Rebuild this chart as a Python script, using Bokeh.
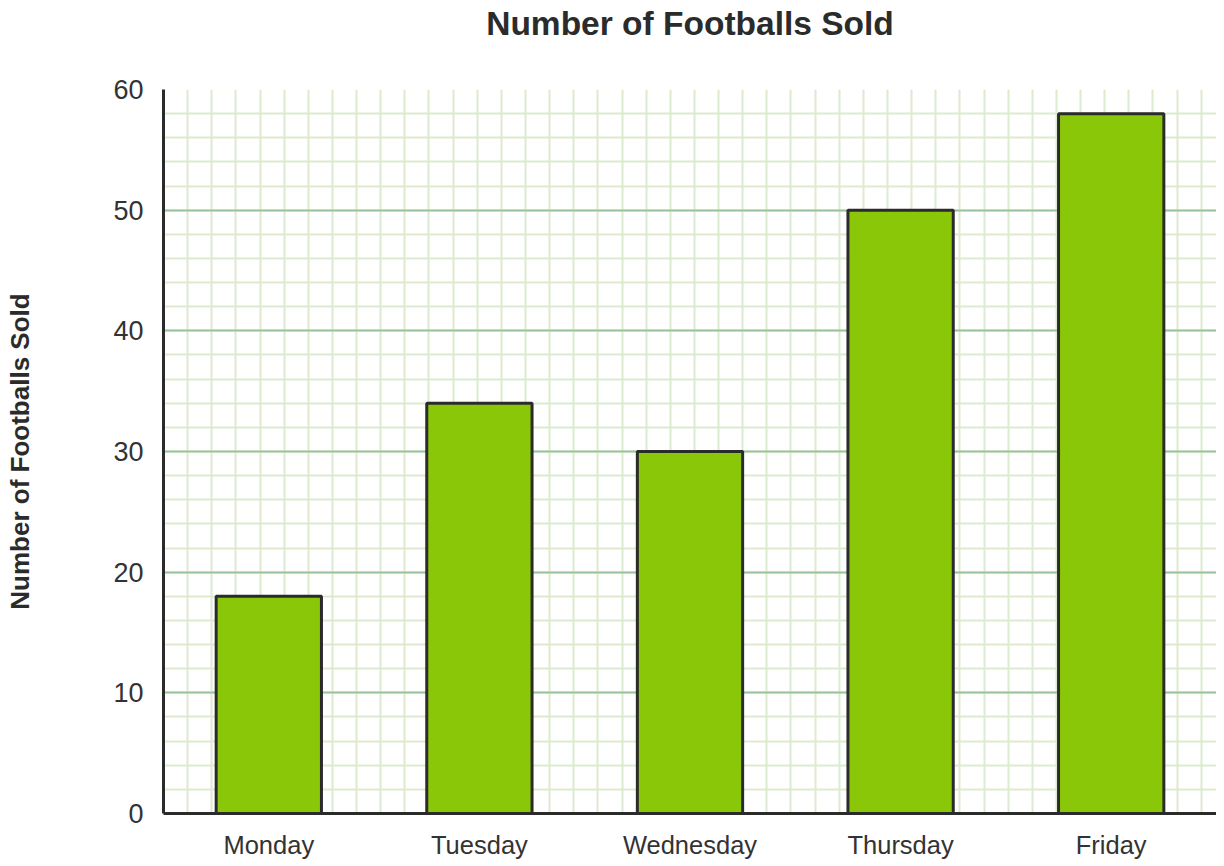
from bokeh.plotting import figure
from bokeh.models import Range1d, FixedTicker, ColumnDataSource, Title
from bokeh.embed import file_html
from bokeh.resources import INLINE

days = ["Monday", "Tuesday", "Wednesday", "Thursday", "Friday"]
sold = [18, 34, 30, 50, 58]
y_major = [0, 10, 20, 30, 40, 50, 60]
y_minor = list(range(0, 61, 2))

FRAME_W, FRAME_H = 1053, 724
L, T, B = 163, 89, 53
W, H = L + FRAME_W, T + FRAME_H + B

xpos = [i + 0.5 for i in range(len(days))]
src = ColumnDataSource(dict(x=xpos, top=sold))

p = figure(width=W, height=H, output_backend="svg", toolbar_location=None,
           x_range=Range1d(0, len(days)), y_range=Range1d(0, 60),
           min_border_left=L, min_border_right=0, min_border_top=T,
           min_border_bottom=B)
p.outline_line_color = None
p.background_fill_color = "white"
p.border_fill_color = "white"

# spacer between frame and title (nearest the frame)
spacer = Title(text=" ", text_font_size="10px", standoff=33)
p.add_layout(spacer, "above")
title = Title(text="Number of Footballs Sold", align="center",
              vertical_align="top", text_font="Liberation Sans",
              text_font_size="33.5px", text_font_style="bold",
              text_color="#2b2b2b", standoff=0)
p.add_layout(title, "above")

# grids
step = 2 * (FRAME_H / 60) / (FRAME_W / len(days))
n = int(len(days) / step)
p.xgrid.ticker = FixedTicker(ticks=[k * step for k in range(1, n + 1)])
p.xgrid.grid_line_color = "#dcebd0"
p.xgrid.grid_line_width = 2

p.yaxis.ticker = FixedTicker(ticks=y_major, minor_ticks=y_minor)
p.ygrid.grid_line_color = "#9cc49c"
p.ygrid.grid_line_width = 2
p.ygrid.minor_grid_line_color = "#dcebd0"
p.ygrid.minor_grid_line_width = 2

p.vbar(x="x", top="top", bottom=0, width=0.5, source=src,
       fill_color="#8ac709", line_color="#2b2b2b", line_width=3)

# axes
p.xaxis.ticker = FixedTicker(ticks=xpos)
p.xaxis.major_label_overrides = {x: d for x, d in zip(xpos, days)}
for ax in (p.xaxis, p.yaxis):
    ax.axis_line_color = "#2b2b2b"
    ax.axis_line_width = 3
    ax.major_tick_line_color = None
    ax.minor_tick_line_color = None
    ax.major_tick_out = 0
    ax.major_tick_in = 0
    ax.major_label_text_font = "Liberation Sans"
    ax.major_label_text_color = "#333333"

p.xaxis.major_label_text_font_size = "25.5px"
p.xaxis.major_label_standoff = 17
p.yaxis.major_label_text_font_size = "27px"
p.yaxis.major_label_standoff = 16

p.yaxis.axis_label = "Number of Footballs Sold"
p.yaxis.axis_label_text_font = "Liberation Sans"
p.yaxis.axis_label_text_font_size = "26px"
p.yaxis.axis_label_text_font_style = "bold"
p.yaxis.axis_label_text_color = "#2b2b2b"
p.yaxis.axis_label_standoff = 75

open("out.html", "w").write(file_html(p, INLINE))
